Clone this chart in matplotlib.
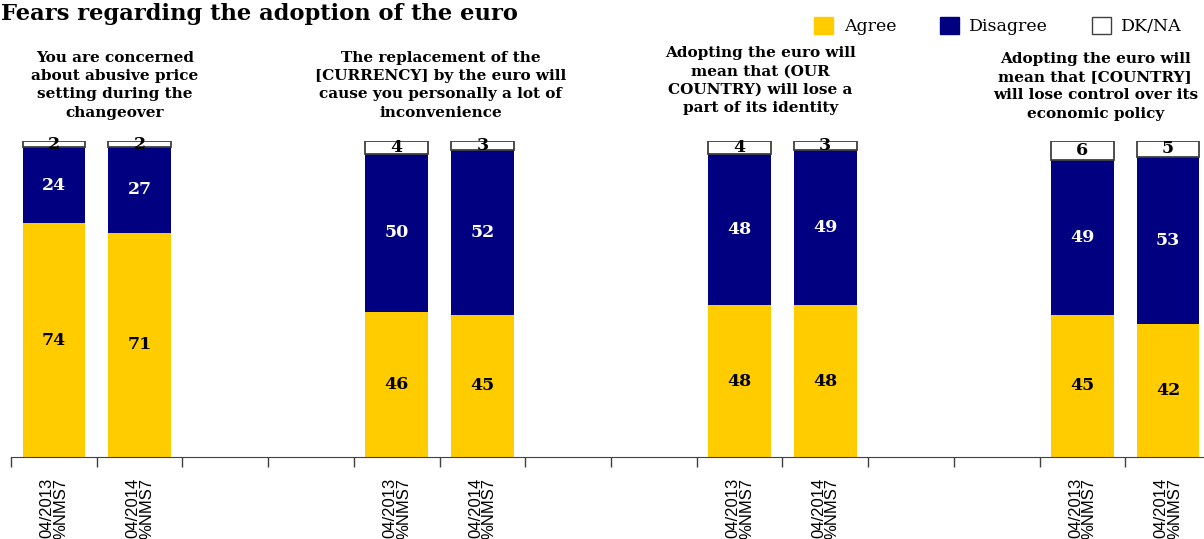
import matplotlib.pyplot as plt
import matplotlib.transforms as mtransforms
from matplotlib.patches import Patch
import numpy as np

questions = [
    "You are concerned\nabout abusive price\nsetting during the\nchangeover",
    "The replacement of the\n[CURRENCY] by the euro will\ncause you personally a lot of\ninconvenience",
    "Adopting the euro will\nmean that (OUR\nCOUNTRY) will lose a\npart of its identity",
    "Adopting the euro will\nmean that [COUNTRY]\nwill lose control over its\neconomic policy",
]
waves = ["04/2013\n%NMS7", "04/2014\n%NMS7"]

agree = np.array([74, 71, 46, 45, 48, 48, 45, 42])
disagree = np.array([24, 27, 50, 52, 48, 49, 49, 53])
dkna = np.array([2, 2, 4, 3, 4, 3, 6, 5])

col_agree = "#FFCC00"
col_disagree = "#000080"

# two bars per question, two empty slots between questions
x = np.array([4 * g + w for g in range(len(questions)) for w in range(len(waves))])
wave_labels = [waves[w] for g in range(len(questions)) for w in range(len(waves))]

fig = plt.figure(figsize=(12.04, 5.39), dpi=100)
ax = fig.add_axes([11 / 1204, 82 / 539, 1200 / 1204, 316 / 539])
ax.set_xlim(-0.5, 13.5)
ax.set_ylim(0, 100)

w = 0.73
ax.bar(x, agree, w, color=col_agree)
ax.bar(x, disagree, w, bottom=agree, color=col_disagree)
ax.bar(x, dkna, w, bottom=agree + disagree, color="white", edgecolor="#404040", linewidth=1.3)

lab = dict(family="DejaVu Serif", fontweight="bold", fontsize=12.5, ha="center", va="center")
for xi, a, d, k in zip(x, agree, disagree, dkna):
    ax.text(xi, a / 2, str(a), color="black", **lab)
    ax.text(xi, a + d / 2, str(d), color="white", **lab)
    ax.text(xi, a + d + k / 2, str(k), color="black", **lab)

# slot boundaries get tick marks, wave labels sit under the bars
ax.set_xticks(np.arange(-0.5, 13.6, 1))
ax.set_xticklabels([])
ax.set_xticks(x, minor=True)
ax.set_xticklabels(wave_labels, minor=True, rotation=90, ha="center", va="top",
                   family="Liberation Sans", fontsize=12)
for t in ax.get_xticklabels(minor=True):
    t.set_multialignment("right")
    t.set_linespacing(0.9)
ax.tick_params(axis="x", which="major", length=7, width=1, color="#404040", direction="out")
ax.tick_params(axis="x", which="minor", length=0, pad=15)
ax.set_yticks([])
for s in ["top", "left", "right"]:
    ax.spines[s].set_visible(False)
ax.spines["bottom"].set_color("#404040")

# question headers above each pair of bars
tr = mtransforms.blended_transform_factory(ax.transData, fig.transFigure)
head_x = [0.71, 4.51, 8.24, 12.15]
head_top = [51, 51, 46, 52]
for q, hx, ht in zip(questions, head_x, head_top):
    ax.text(hx, 1 - ht / 539, q, transform=tr, ha="center", va="top",
            family="DejaVu Serif", fontweight="bold", fontsize=11.0, linespacing=1.38)

fig.text(1 / 1204, 1 - 3 / 539, "Fears regarding the adoption of the euro", ha="left", va="top",
         family="DejaVu Serif", fontweight="bold", fontsize=16.3)

handles = [
    Patch(facecolor=col_agree, edgecolor=col_agree),
    Patch(facecolor=col_disagree, edgecolor=col_disagree),
    Patch(facecolor="white", edgecolor="#404040"),
]
fig.legend(handles, ["Agree", "Disagree", "DK/NA"], loc="center",
           bbox_to_anchor=(998 / 1204, 1 - 26 / 539), ncol=3, frameon=False,
           prop=dict(family="DejaVu Serif", size=12.5), handlelength=1.1, handleheight=1.1,
           handletextpad=0.6, columnspacing=2.5)

fig.savefig("out.png", dpi=100)
